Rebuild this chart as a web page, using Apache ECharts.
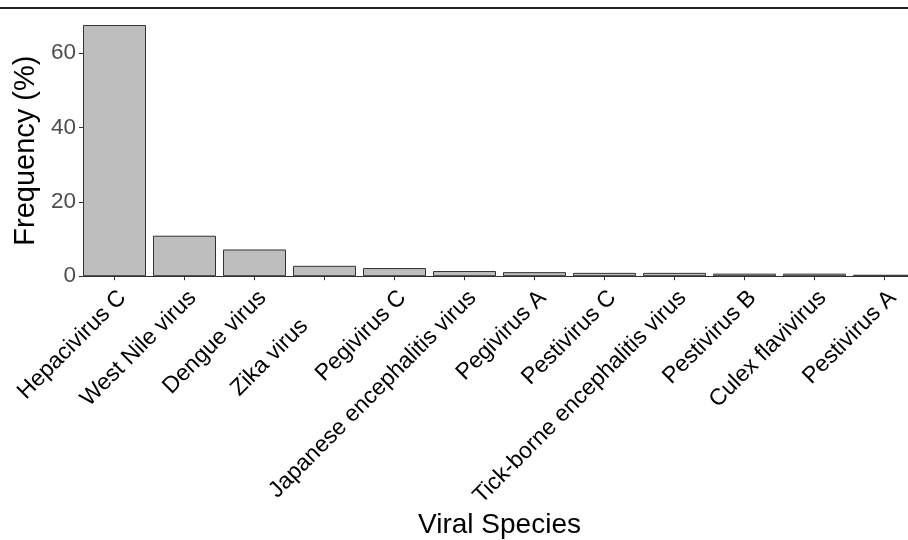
<!DOCTYPE html>
<html>
<head>
<meta charset="utf-8">
<script src="https://cdn.jsdelivr.net/npm/echarts@6/dist/echarts.min.js"></script>
<style>html,body{margin:0;padding:0;background:#fff;overflow:hidden;width:908px;height:540px;}#c{width:920px;height:540px;}</style>
</head>
<body>
<div id="c"></div>
<script>
const categories = ['Hepacivirus C', 'West Nile virus', 'Dengue virus', 'Zika virus', 'Pegivirus C',
  'Japanese encephalitis virus', 'Pegivirus A', 'Pestivirus C', 'Tick-borne encephalitis virus',
  'Pestivirus B', 'Culex flavivirus', 'Pestivirus A'];
const frequency = [67.6, 10.9, 7.2, 2.8, 2.2, 1.4, 1.1, 0.9, 0.9, 0.7, 0.7, 0.4];
const yTicks = [0, 20, 40, 60];

const chart = echarts.init(document.getElementById('c'), null, {renderer: 'canvas'});
const FONT = 'Liberation Sans, Arial, sans-serif';
chart.setOption({
  animation: false,
  backgroundColor: '#fff',
  grid: {left: 79.5, width: 840, top: 25, bottom: 263.5, containLabel: false},
  xAxis: {
    type: 'category',
    data: categories,
    name: 'Viral Species',
    nameLocation: 'middle',
    nameGap: 230,
    nameTextStyle: {fontFamily: FONT, fontSize: 28, color: '#000'},
    axisLine: {show: true, lineStyle: {color: '#333', width: 1.2}},
    axisTick: {show: true, alignWithLabel: true, length: 4, lineStyle: {color: '#333'}},
    axisLabel: {
      interval: 0, rotate: 45, margin: 10,
      align: 'right', verticalAlign: 'top',
      fontFamily: FONT, fontSize: 23, color: '#000',
      formatter: function (v) { return v === 'Zika virus' ? '{z|' + v + '}' : v; },
      rich: {z: {fontFamily: FONT, fontSize: 23, color: '#000', padding: [0, 40, 0, 0]}}
    },
    splitLine: {show: false}
  },
  yAxis: {
    type: 'value',
    min: 0, max: 67.6,
    offset: -3.5,
    name: 'Frequency (%)',
    nameLocation: 'middle',
    nameGap: 29,
    nameRotate: 90,
    nameTextStyle: {fontFamily: FONT, fontSize: 29, color: '#000'},
    axisLine: {show: false},
    axisTick: {show: true, length: 4, customValues: yTicks, lineStyle: {color: '#333'}},
    axisLabel: {customValues: yTicks, margin: 7, fontFamily: FONT, fontSize: 22.5, color: '#4d4d4d'},
    splitLine: {show: false}
  },
  series: [{
    type: 'bar',
    data: frequency,
    barCategoryGap: '10%',
    itemStyle: {color: '#bebebe', borderColor: '#333', borderWidth: 1}
  }],
  graphic: [{
    type: 'line',
    shape: {x1: 0, y1: 8, x2: 908, y2: 8},
    style: {stroke: '#222', lineWidth: 2}
  }]
});
</script>
</body>
</html>
